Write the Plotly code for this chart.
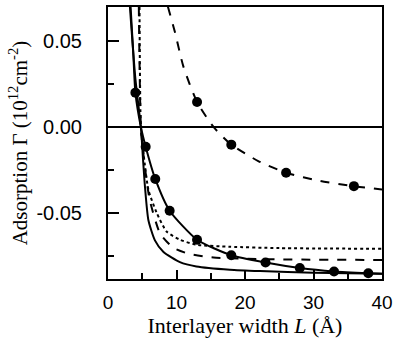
import plotly.graph_objects as go

# --- data ---
# upper dashed curve with circles
up_L = [8.75, 9.8, 11.0, 13.0, 15.4, 18.0, 22.0, 26.0, 31.0, 35.9, 40.0]
up_G = [0.070, 0.0548, 0.0353, 0.0145, 0.0, -0.0103, -0.0200, -0.0267, -0.0315, -0.0345, -0.0364]
up_mL = [13.0, 18.0, 26.0, 35.9]
up_mG = [0.0145, -0.0103, -0.0267, -0.0345]

# solid curve with circles
sc_L = [3.3, 3.7, 4.0, 4.8, 5.5, 6.9, 9.0, 13.0, 18.0, 23.0, 28.0, 33.0, 38.0, 40.0]
sc_G = [0.070, 0.042, 0.020, 0.0, -0.0115, -0.0303, -0.0488, -0.0657, -0.0748, -0.0790, -0.0822, -0.0842, -0.0852, -0.0855]
sc_mL = [4.0, 5.5, 6.9, 9.0, 13.0, 18.0, 23.0, 28.0, 33.0, 38.0]
sc_mG = [0.020, -0.0115, -0.0303, -0.0488, -0.0657, -0.0748, -0.0790, -0.0822, -0.0842, -0.0852]

# lowest solid curve
so_L = [3.2, 4.0, 4.8, 5.1, 5.4, 5.9, 6.85, 8.1, 10.5, 12.9, 17.8, 22.2, 30.0, 40.0]
so_G = [0.070, 0.028, 0.0, -0.018, -0.035, -0.0544, -0.0661, -0.0729, -0.0788, -0.0813, -0.0832, -0.0840, -0.0850, -0.0856]

# dotted curve
dt_L = [4.6, 4.8, 5.2, 5.9, 7.1, 8.55, 10.5, 12.9, 17.8, 25.0, 40.0]
dt_G = [0.070, 0.0, -0.016, -0.0366, -0.0500, -0.0609, -0.0657, -0.0686, -0.0698, -0.0706, -0.0710]

# lower dashed curve
ds_L = [4.5, 4.8, 5.2, 5.6, 6.1, 7.6, 9.5, 11.7, 15.4, 20.0, 25.0, 40.0]
ds_G = [0.070, 0.0, -0.017, -0.030, -0.0427, -0.0620, -0.0703, -0.0738, -0.0761, -0.0768, -0.0772, -0.0775]

x_ticks = [0, 10, 20, 30, 40]
y_ticks = [-0.05, 0.0, 0.05]
y_ticktext = ["-0.05", "0.00", "0.05"]

fig = go.Figure()
line_kw = dict(color="black", width=2)

fig.add_trace(go.Scatter(x=[0, 40], y=[0, 0], mode="lines",
                         line=dict(color="black", width=2), hoverinfo="skip"))
fig.add_trace(go.Scatter(x=so_L, y=so_G, mode="lines",
                         line=dict(line_kw, shape="spline", smoothing=0.6)))
fig.add_trace(go.Scatter(x=dt_L, y=dt_G, mode="lines",
                         line=dict(line_kw, dash="dot", shape="spline", smoothing=0.6)))
fig.add_trace(go.Scatter(x=ds_L, y=ds_G, mode="lines",
                         line=dict(line_kw, dash="dash", shape="spline", smoothing=0.6)))
fig.add_trace(go.Scatter(x=sc_L, y=sc_G, mode="lines",
                         line=dict(line_kw, shape="spline", smoothing=0.6)))
fig.add_trace(go.Scatter(x=sc_mL, y=sc_mG, mode="markers",
                         marker=dict(color="black", size=10)))
fig.add_trace(go.Scatter(x=up_L, y=up_G, mode="lines",
                         line=dict(line_kw, dash="dash", shape="spline", smoothing=0.6)))
fig.add_trace(go.Scatter(x=up_mL, y=up_mG, mode="markers",
                         marker=dict(color="black", size=10)))

fig.update_layout(
    width=393, height=343,
    margin=dict(l=108, r=11, t=7, b=64),
    paper_bgcolor="white", plot_bgcolor="white",
    showlegend=False,
    font=dict(family="Liberation Sans, Arial", color="black", size=19),
)
fig.update_xaxes(
    range=[0, 40], tickvals=x_ticks, ticks="inside", ticklen=9, tickwidth=1.5,
    tickcolor="black", showline=True, linecolor="black", linewidth=2, mirror=True,
    showgrid=False, zeroline=False, automargin=False, ticklabelstandoff=5,
    tickfont=dict(family="Liberation Sans, Arial", size=19),
    minor=dict(dtick=5, tick0=0, ticks="inside", ticklen=6, tickcolor="black", tickwidth=1.5, showgrid=False),
    title=dict(text="Interlayer width <i>L</i> (Å)", standoff=0,
               font=dict(family="Liberation Serif, Times New Roman", size=22)),
)
fig.update_yaxes(
    range=[-0.0886, 0.0699], tickvals=y_ticks, ticktext=y_ticktext, ticks="inside",
    ticklen=11, tickwidth=1.5, tickcolor="black", showline=True, linecolor="black",
    linewidth=2, mirror=True, showgrid=False, zeroline=False, automargin=False,
    ticklabelstandoff=20,
    tickfont=dict(family="Liberation Sans, Arial", size=20),
    minor=dict(dtick=0.025, tick0=0, ticks="inside", ticklen=6, tickcolor="black", tickwidth=1.5, showgrid=False),
    title=dict(text="Adsorption Γ (10<sup>12</sup>cm<sup>-2</sup>)", standoff=3,
               font=dict(family="Liberation Serif, Times New Roman", size=21)),
)

fig.write_html("out.html", config={"displayModeBar": False},
               post_script="document.body.style.margin='0';")
